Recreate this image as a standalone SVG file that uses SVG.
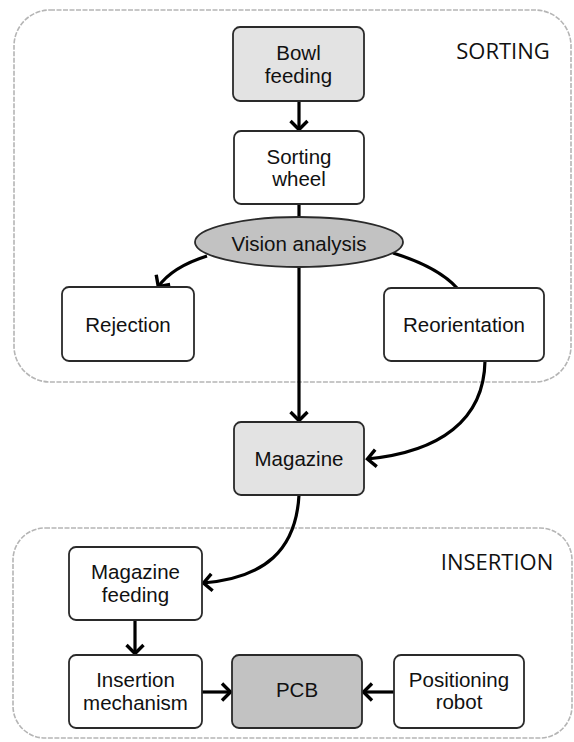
<svg xmlns="http://www.w3.org/2000/svg" width="574" height="742" viewBox="0 0 574 742">
<style>
.bg{fill:#ffffff}
.group{fill:none;stroke:#b5b5b5;stroke-width:1.6;stroke-dasharray:5 1.5}
.box{stroke:#2a2a2a;stroke-width:1.8}
.plain{fill:#ffffff}
.light{fill:#e3e3e3}
.dark{fill:#c2c2c2}
.t{font-family:"Liberation Sans",Arial,sans-serif;font-size:20.5px;fill:#111;text-anchor:middle}
.h{font-family:"Open Sans","Liberation Sans",sans-serif;font-size:22px;fill:#111;text-anchor:middle}
.c{fill:none;stroke:#000;stroke-width:3.2}
</style>
<defs>
<marker id="arr" markerUnits="userSpaceOnUse" viewBox="-12 -10 14 20" markerWidth="14" markerHeight="20" refX="0" refY="0" orient="auto">
<path d="M-9,-8.5 L-0.5,0 L-9,8.5" fill="none" stroke="#000" stroke-width="3.4"/>
</marker>
</defs>
<rect class="bg" x="0" y="0" width="574" height="742"/>
<g id="sorting-group">
<rect class="group" x="14" y="10" width="557" height="372" rx="36"/>
<text class="h" x="503" y="59">SORTING</text>
</g>
<g id="insertion-group">
<rect class="group" x="13" y="528" width="559" height="210" rx="32"/>
<text class="h" x="497" y="570">INSERTION</text>
</g>
<g id="connectors">
<path class="c" d="M299,101 L299,130" marker-end="url(#arr)"/>
<path class="c" d="M299,204 L299,217"/>
<path class="c" d="M207,256 Q172,267 158,287" marker-end="url(#arr)"/>
<path class="c" d="M393,253 Q438,267 457,288"/>
<path class="c" d="M299,267 L299,421" marker-end="url(#arr)"/>
<path class="c" d="M485,361 C484,420 440,452 367,459" marker-end="url(#arr)"/>
<path class="c" d="M299,495 C296,550 265,578 203,583" marker-end="url(#arr)"/>
<path class="c" d="M135,620 L135,654" marker-end="url(#arr)"/>
<path class="c" d="M202,692 L231,692" marker-end="url(#arr)"/>
<path class="c" d="M394,692 L363,692" marker-end="url(#arr)"/>
</g>
<g id="bowl-feeding">
<rect class="box light" x="233" y="27" width="131" height="74" rx="7"/>
<text class="t" x="298.5" y="60">Bowl</text>
<text class="t" x="298.5" y="83">feeding</text>
</g>
<g id="sorting-wheel">
<rect class="box plain" x="234" y="131" width="130" height="73" rx="7"/>
<text class="t" x="299" y="164">Sorting</text>
<text class="t" x="299" y="186">wheel</text>
</g>
<g id="vision-analysis">
<ellipse class="box dark" cx="299" cy="242" rx="104" ry="25"/>
<text class="t" x="299" y="251">Vision analysis</text>
</g>
<g id="rejection">
<rect class="box plain" x="62" y="287" width="132" height="74" rx="7"/>
<text class="t" x="128" y="332">Rejection</text>
</g>
<g id="reorientation">
<rect class="box plain" x="384" y="288" width="160" height="73" rx="7"/>
<text class="t" x="464" y="332">Reorientation</text>
</g>
<g id="magazine">
<rect class="box light" x="234" y="422" width="130" height="73" rx="7"/>
<text class="t" x="299" y="466">Magazine</text>
</g>
<g id="magazine-feeding">
<rect class="box plain" x="69" y="547" width="133" height="73" rx="7"/>
<text class="t" x="135.5" y="579">Magazine</text>
<text class="t" x="135.5" y="602">feeding</text>
</g>
<g id="insertion-mechanism">
<rect class="box plain" x="69" y="655" width="133" height="73" rx="7"/>
<text class="t" x="135.5" y="687">Insertion</text>
<text class="t" x="135.5" y="710">mechanism</text>
</g>
<g id="pcb">
<rect class="box dark" x="232" y="655" width="130" height="73" rx="7"/>
<text class="t" x="297" y="697">PCB</text>
</g>
<g id="positioning-robot">
<rect class="box plain" x="394" y="655" width="130" height="73" rx="7"/>
<text class="t" x="459" y="687">Positioning</text>
<text class="t" x="459" y="709">robot</text>
</g>
</svg>
